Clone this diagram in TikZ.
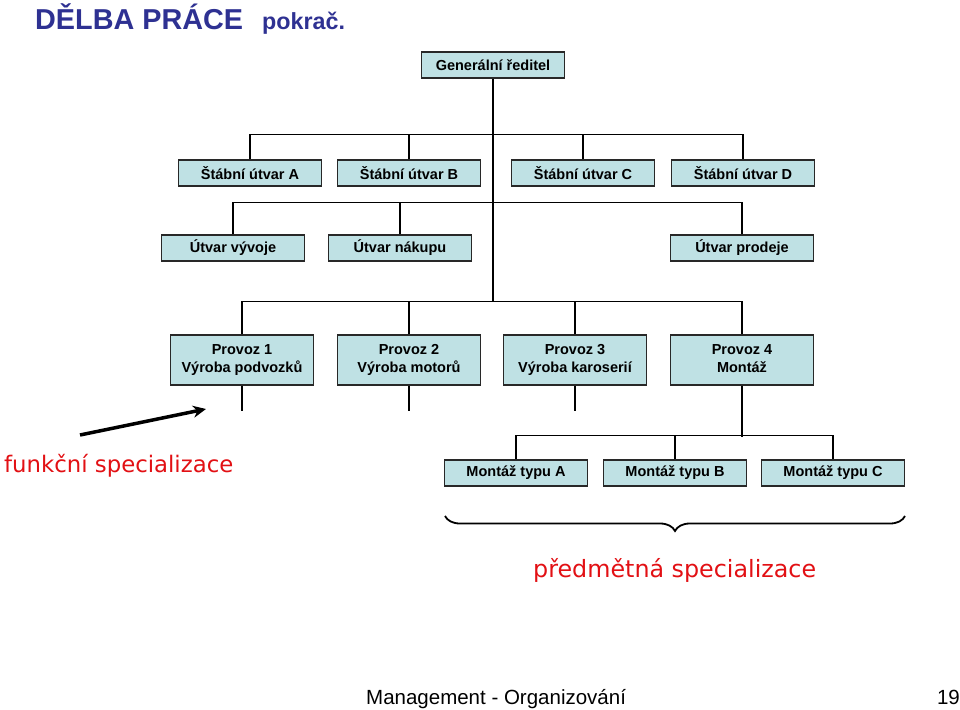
\documentclass[tikz,border=0pt]{standalone}
\usepackage{fontspec}
\setmainfont{Liberation Sans}
\newfontfamily\comicfont{DejaVu Sans}
\usetikzlibrary{arrows.meta,decorations.pathreplacing}
\definecolor{boxfill}{RGB}{191,225,228}
\definecolor{boxline}{RGB}{40,40,40}
\definecolor{titleblue}{RGB}{46,49,146}
\definecolor{specred}{RGB}{226,16,20}
\tikzset{
  orgbox/.style={draw=boxline, line width=1.2pt, fill=boxfill, minimum width=143pt,
    minimum height=26pt, inner sep=0pt, align=center, text=black,
    font=\bfseries\fontsize{14.5}{18}\selectfont},
  tallbox/.style={orgbox, minimum height=50pt},
  conn/.style={line width=1.6pt, draw=black},
  spectext/.style={text=specred, inner sep=0pt, anchor=base west}
}
\begin{document}
\begin{tikzpicture}[x=1pt,y=-1pt]
\useasboundingbox (0,0) rectangle (960,709);
% title
\node[anchor=base west, inner sep=0pt, text=titleblue, font=\bfseries\fontsize{28.8}{32}\selectfont] (title) at (35,30) {DĚLBA PRÁCE};
\node[anchor=base west, inner sep=0pt, text=titleblue, font=\bfseries\fontsize{23.3}{26}\selectfont] (pokr) at (262,30) {pokrač.};
% boxes
\node[orgbox] (GR) at (493,65) {Generální ředitel};
\node[orgbox] (SA) at (250,173) {Štábní útvar A};
\node[orgbox] (SB) at (409,173) {Štábní útvar B};
\node[orgbox] (SC) at (583,173) {Štábní útvar C};
\node[orgbox] (SD) at (743,173) {Štábní útvar D};
\node[orgbox] (UV) at (233,248) {Útvar vývoje};
\node[orgbox] (UN) at (400,248) {Útvar nákupu};
\node[orgbox] (UP) at (742,248) {Útvar prodeje};
\node[tallbox] (P1) at (242,360) {Provoz 1\\Výroba podvozků};
\node[tallbox] (P2) at (409,360) {Provoz 2\\Výroba motorů};
\node[tallbox] (P3) at (575,360) {Provoz 3\\Výroba karoserií};
\node[tallbox] (P4) at (742,360) {Provoz 4\\Montáž\vphantom{ý}};
\node[orgbox] (MA) at (516,473) {Montáž typu A};
\node[orgbox] (MB) at (675,473) {Montáž typu B};
\node[orgbox] (MC) at (833,473) {Montáž typu C};
% connectors
\coordinate (j3) at (493,302);
\draw[conn] (GR.south) -- (j3);
\draw[conn] (SA.north) -- ++(0,-25) -| (SD.north);
\draw[conn] (SB.north) -- ++(0,-25);
\draw[conn] (SC.north) -- ++(0,-25);
\draw[conn] (UV.north) -- ++(0,-32) -| (UP.north);
\draw[conn] (UN.north) -- ++(0,-32);
\draw[conn] (P1.north) -- ++(0,-33) -| (P4.north);
\draw[conn] (P2.north) -- ++(0,-33);
\draw[conn] (P3.north) -- ++(0,-33);
\draw[conn] (P1.south) -- ++(0,25);
\draw[conn] (P2.south) -- ++(0,25);
\draw[conn] (P3.south) -- ++(0,25);
\draw[conn] (P4.south) -- ++(0,51);
\draw[conn] (MA.north) -- ++(0,-24) -| (MC.north);
\draw[conn] (MB.north) -- ++(0,-24);
% arrow
\coordinate (arS) at (80,435);
\coordinate (arE) at (206,409);
\draw[line width=3.5pt, -{Stealth[length=13pt,width=12pt]}] (arS) -- (arE);
% brace
\coordinate (brR) at (905,516);
\coordinate (brL) at (445,516);
\draw[line width=1.8pt, decorate, decoration={brace, amplitude=15pt}] (brR) -- (brL);
% red labels
\node[spectext, font=\comicfont\fontsize{22.8}{27}\selectfont] (funk) at (4,472) {funkční specializace};
\node[spectext, font=\comicfont\fontsize{23.8}{28}\selectfont] (pred) at (533,577) {předmětná specializace};
% footer
\node[anchor=base west, inner sep=0pt, font=\fontsize{20.5}{24}\selectfont] (foot) at (366,704) {Management - Organizování};
\node[anchor=base east, inner sep=0pt, font=\fontsize{20.5}{24}\selectfont] (pg) at (960,704) {19};
\end{tikzpicture}
\end{document}
